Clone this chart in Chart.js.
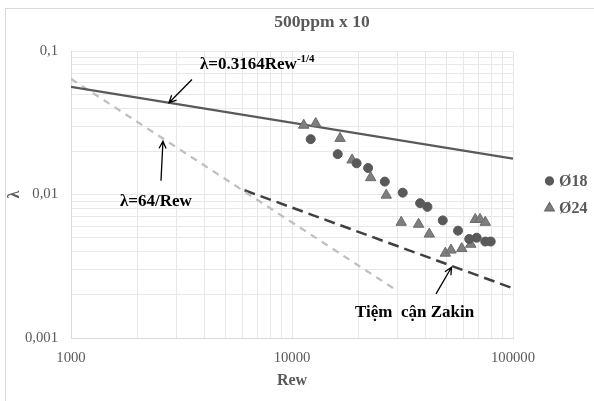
<!DOCTYPE html>
<html>
<head>
<meta charset="utf-8">
<script src="https://cdn.jsdelivr.net/npm/chart.js@4/dist/chart.umd.min.js"></script>
<style>
  body { margin: 0; background: #fff; }
  canvas { display: block; }
</style>
</head>
<body>
<canvas id="myChart" width="594" height="401"></canvas>
<script>
//================================ DATA ================================//
var chartTitle = "500ppm x 10";

// Ø18 series (Rew, lambda)
var re18 = [12150, 16100, 19600, 22100, 26300, 31700, 38000, 41000, 48100, 56400, 63400, 68500, 74900, 79300];
var lam18 = [0.0243, 0.0191, 0.0165, 0.0153, 0.0123, 0.0103, 0.0087, 0.0082, 0.0066, 0.0056, 0.0049, 0.0050, 0.0047, 0.0047];

// Ø24 series
var re24 = [11300, 12800, 16500, 18700, 22700, 26700, 31200, 37400, 41800, 49400, 52400, 58600, 64400, 67500, 70900, 74900];
var lam24 = [0.0304, 0.0312, 0.0246, 0.0174, 0.0131, 0.0099, 0.0064, 0.0062, 0.0053, 0.0039, 0.0041, 0.0042, 0.0045, 0.0067, 0.0067, 0.0064];

// reference lines (end points, straight in log-log)
var blasiusRe = [1000, 100000];
var blasiusLam = [0.0563, 0.0178];
var laminarRe = [1000, 30000];
var laminarLam = [0.064, 0.00213];
var zakinRe = [6100, 100000];
var zakinLam = [0.0107, 0.00222];

// axis ticks
var xGrid = [1000, 2000, 3000, 4000, 5000, 6000, 7000, 8000, 9000,
             10000, 20000, 30000, 40000, 50000, 60000, 70000, 80000, 90000, 100000];
var yGrid = [0.001, 0.002, 0.003, 0.004, 0.005, 0.006, 0.007, 0.008, 0.009,
             0.01, 0.02, 0.03, 0.04, 0.05, 0.06, 0.07, 0.08, 0.09, 0.1];
var xMajor = [1000, 10000, 100000];
var xMajorLabels = ["1000", "10000", "100000"];
var yMajor = [0.001, 0.01, 0.1];
var yMajorLabels = ["0,001", "0,01", "0,1"];

//================================ HELPERS ================================//
function toPoints(xs, ys){
    var pts = [];
    for(var i = 0; i < xs.length; i++){
        pts.push({x: xs[i], y: ys[i]});
    }
    return pts;
}
function majorLabel(value, majors, labels){
    for(var i = 0; i < majors.length; i++){
        if(Math.abs(value - majors[i]) / majors[i] < 1e-6) return labels[i];
    }
    return "";
}

var serif = "'Liberation Serif', 'Times New Roman', serif";
var grey = "#595959";

// annotation texts and arrows, positioned in data space
var notes = [
    {text: "λ=0.3164Rew", sup: "-1/4", x: 3835, y: 0.0804},
    {text: "λ=64/Rew", x: 1666, y: 0.0089},
    {text: "Tiệm  cận Zakin", x: 19280, y: 0.00150}
];
var arrows = [
    {x1: 3527, y1: 0.0633, x2: 2776, y2: 0.0436},
    {x1: 2554, y1: 0.01246, x2: 2606, y2: 0.0235},
    {x1: 44840, y1: 0.00203, x2: 52700, y2: 0.00311}
];

var extrasPlugin = {
    id: "extras",
    beforeDraw: function(chart){
        var ctx = chart.ctx;
        ctx.save();
        ctx.fillStyle = "#fff";
        ctx.fillRect(0, 0, chart.width, chart.height);
        ctx.strokeStyle = "#d9d9d9";
        ctx.lineWidth = 1;
        ctx.strokeRect(5.5, 8.5, chart.width, chart.height);
        ctx.restore();
    },
    afterDraw: function(chart){
        var ctx = chart.ctx;
        var xs = chart.scales.x, ys = chart.scales.y;
        ctx.save();
        // title
        ctx.fillStyle = grey;
        ctx.font = "bold 17.5px " + serif;
        ctx.textAlign = "center";
        ctx.textBaseline = "middle";
        ctx.fillText(chartTitle, 322, 22);

        // annotation texts
        ctx.fillStyle = "#000";
        ctx.textAlign = "left";
        notes.forEach(function(n){
            var px = xs.getPixelForValue(n.x), py = ys.getPixelForValue(n.y);
            ctx.font = "bold 17px " + serif;
            ctx.fillText(n.text, px, py);
            if(n.sup){
                var w = ctx.measureText(n.text).width;
                ctx.font = "bold 11px " + serif;
                ctx.fillText(n.sup, px + w, py - 5);
            }
        });

        // arrows
        ctx.strokeStyle = "#000";
        ctx.lineWidth = 1.3;
        arrows.forEach(function(a){
            var x1 = xs.getPixelForValue(a.x1), y1 = ys.getPixelForValue(a.y1);
            var x2 = xs.getPixelForValue(a.x2), y2 = ys.getPixelForValue(a.y2);
            var ang = Math.atan2(y2 - y1, x2 - x1);
            ctx.beginPath();
            ctx.moveTo(x1, y1);
            ctx.lineTo(x2, y2);
            ctx.moveTo(x2 - 8 * Math.cos(ang - 0.45), y2 - 8 * Math.sin(ang - 0.45));
            ctx.lineTo(x2, y2);
            ctx.lineTo(x2 - 8 * Math.cos(ang + 0.45), y2 - 8 * Math.sin(ang + 0.45));
            ctx.stroke();
        });

        // legend
        var legendY = [181, 208];
        chart.data.datasets.slice(0, 2).forEach(function(ds, i){
            ctx.fillStyle = ds.backgroundColor;
            ctx.strokeStyle = ds.borderColor;
            Chart.helpers.drawPoint(ctx, {
                pointStyle: ds.pointStyle,
                radius: i == 0 ? 4 : 5.5,
                borderWidth: 1
            }, 549.5, legendY[i]);
            ctx.fillStyle = grey;
            ctx.font = "bold 16px " + serif;
            ctx.textAlign = "left";
            ctx.textBaseline = "middle";
            ctx.fillText(ds.label, 559, legendY[i] + 1);
        });
        ctx.restore();
    }
};

//================================ CHART ================================//
new Chart("myChart", {
    type: "scatter",
    data: {
        datasets: [{
            label: "Ø18",
            data: toPoints(re18, lam18),
            pointStyle: "circle",
            pointRadius: 4.5,
            backgroundColor: "#595959",
            borderColor: "#595959",
            borderWidth: 1
        },{
            label: "Ø24",
            data: toPoints(re24, lam24),
            pointStyle: "triangle",
            pointRadius: 6,
            backgroundColor: "#7f7f7f",
            borderColor: "#6a6a6a",
            borderWidth: 1
        },{
            label: "blasius",
            data: toPoints(blasiusRe, blasiusLam),
            showLine: true,
            pointRadius: 0,
            borderColor: "#595959",
            borderWidth: 2.25
        },{
            label: "laminar",
            data: toPoints(laminarRe, laminarLam),
            showLine: true,
            pointRadius: 0,
            borderColor: "#bfbfbf",
            borderWidth: 2.25,
            borderDash: [7, 6]
        },{
            label: "zakin",
            data: toPoints(zakinRe, zakinLam),
            showLine: true,
            pointRadius: 0,
            borderColor: "#404040",
            borderWidth: 2.5,
            borderDash: [11, 6]
        }]
    },
    options: {
        responsive: false,
        animation: false,
        layout: { padding: { top: 51, right: 81, left: 0, bottom: 0 } },
        plugins: {
            legend: { display: false },
            tooltip: { enabled: false }
        },
        scales: {
            x: {
                type: "logarithmic",
                min: 1000,
                max: 100000,
                afterBuildTicks: function(scale){
                    scale.ticks = xGrid.map(function(v){ return {value: v}; });
                },
                afterFit: function(scale){ scale.height = 63; },
                grid: { color: "#e8e8e8", drawTicks: false },
                border: { color: "#d9d9d9" },
                ticks: {
                    autoSkip: false,
                    maxRotation: 0,
                    padding: 11,
                    color: grey,
                    font: { family: serif, size: 14.7 },
                    callback: function(v){ return majorLabel(v, xMajor, xMajorLabels); }
                },
                title: {
                    display: true,
                    text: "Rew",
                    color: grey,
                    font: { family: serif, size: 16, weight: "bold" },
                    padding: { top: 0, bottom: 11 }
                }
            },
            y: {
                type: "logarithmic",
                min: 0.001,
                max: 0.1,
                afterBuildTicks: function(scale){
                    scale.ticks = yGrid.map(function(v){ return {value: v}; });
                },
                afterFit: function(scale){ scale.width = 71; },
                grid: { color: "#e8e8e8", drawTicks: false },
                border: { color: "#d9d9d9" },
                ticks: {
                    autoSkip: false,
                    padding: 13,
                    color: grey,
                    font: { family: serif, size: 14.7 },
                    callback: function(v){ return majorLabel(v, yMajor, yMajorLabels); }
                },
                title: {
                    display: true,
                    text: "λ",
                    color: grey,
                    font: { family: serif, size: 16, weight: "bold" },
                    padding: { top: 5, bottom: 0 }
                }
            }
        }
    },
    plugins: [extrasPlugin]
});
</script>
</body>
</html>
